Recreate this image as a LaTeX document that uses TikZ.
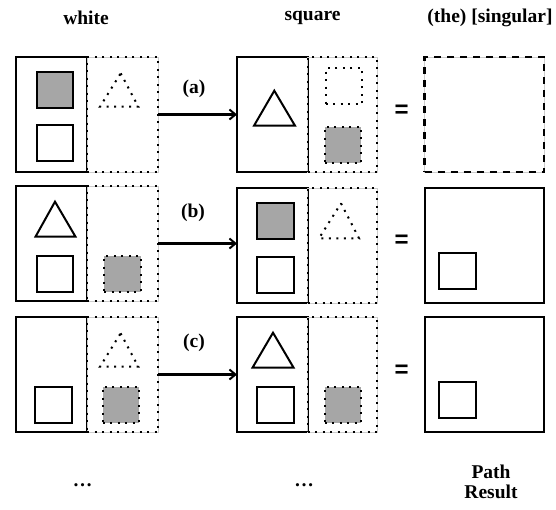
\documentclass[tikz,border=0pt]{standalone}
\usepackage{fontspec}
\setmainfont{Liberation Serif}
\newfontfamily\eqfont{Liberation Sans}
\usetikzlibrary{arrows.meta}
\definecolor{shade}{RGB}{166,166,166}
\definecolor{faint}{RGB}{205,205,205}
\tikzset{
  dotpat/.style={dash pattern=on 2pt off 5.5pt},
  solidbox/.style={draw, line width=2pt, inner sep=0pt, outer sep=0pt, anchor=north west},
  dotbox/.style={draw, line width=2pt, dotpat, inner sep=0pt, outer sep=0pt, anchor=north west,
     preaction={draw=faint, line width=0.6pt, solid}},
  dashbox/.style={draw, line width=2.2pt, dash pattern=on 7pt off 6pt, inner sep=0pt, outer sep=0pt, anchor=north west,
     preaction={draw=faint, line width=0.6pt, solid}},
  sq/.style={draw, line width=2pt, inner sep=0pt, outer sep=0pt, anchor=north west, minimum width=36.6pt, minimum height=36pt},
  graysq/.style={sq, fill=shade},
  dotgraysq/.style={sq, fill=shade, draw, dotpat},
  dotsq/.style={sq, dotpat},
  tri/.style={draw, line width=2pt, line join=miter},
  dottri/.style={draw, line width=2pt, dotpat},
  lbl/.style={font=\fontsize{19.5}{20}\selectfont\bfseries, inner sep=0pt},
  eqsign/.style={font=\eqfont\fontsize{24}{24}\selectfont\bfseries, inner sep=0pt},
  arr/.style={-{Straight Barb[length=6pt,width=10pt,line width=2pt]}, line width=2.2pt},
  tall/.style={minimum width=71pt, minimum height=115pt},
  wide/.style={minimum width=119.5pt, minimum height=115pt}
}
\begin{document}
\begin{tikzpicture}[x=1pt,y=-1pt]
\useasboundingbox (0,0) rectangle (556,509);

% headers
\node[lbl] (h1) at (86,18) {white};
\node[lbl] (h2) at (312.5,18) {square};
\node[lbl] (h3) at (490,18) {(the) [singular]};

% ---------- row 1 ----------
\node[solidbox, tall] (L1) at (16,57) {};
\node[dotbox, tall] (D1) at (87,57) {};
\node[graysq] (a1) at (36.7,71.7) {};
\node[sq] (a2) at (36.7,125) {};
\draw[dottri] (120.7,73.3) -- (138.3,106.7) -- (100,106.7) -- cycle;
\node[solidbox, tall, minimum width=70.5pt] (M1) at (237,57) {};
\node[dotbox, tall, minimum width=69.5pt] (N1) at (307.5,57) {};
\draw[tri] (274.3,90.7) -- (295,125.7) -- (254,125.7) -- cycle;
\node[dotsq] (a3) at (325.7,68.3) {};
\node[dotgraysq] (a4) at (324.5,126.7) {};
\node[eqsign] (e1) at (401.7,111.7) {=};
\node[dashbox, wide] (R1) at (424.5,57) {};
\draw[arr] (D1.east) -- (M1.west);
\node[lbl] (la) at (194,89) {(a)};

% ---------- row 2 ----------
\node[solidbox, tall] (L2) at (16,186) {};
\node[dotbox, tall] (D2) at (87,186) {};
\draw[tri] (55,201.7) -- (75.5,236.7) -- (35.5,236.7) -- cycle;
\node[sq] (b1) at (36.7,255.7) {};
\node[dotgraysq] (b2) at (104,255.7) {};
\node[solidbox, tall, minimum width=70.5pt] (M2) at (237,188) {};
\node[dotbox, tall, minimum width=69.5pt] (N2) at (307.5,188) {};
\node[graysq] (b3) at (257,203.3) {};
\node[sq] (b4) at (257,257.3) {};
\draw[dottri] (341,203.3) -- (359,238.3) -- (319,238.3) -- cycle;
\node[eqsign] (e2) at (401.7,241.7) {=};
\node[solidbox, wide] (R2) at (424.5,188) {};
\node[sq] (b5) at (439,252.7) {};
\coordinate (t2) at (M2.west |- D2.east);
\draw[arr] (D2.east) -- (t2);
\node[lbl] (lb) at (193,213.3) {(b)};

% ---------- row 3 ----------
\node[solidbox, tall] (L3) at (16,317) {};
\node[dotbox, tall] (D3) at (87,317) {};
\node[sq] (c1) at (35.3,386.7) {};
\draw[dottri] (120.6,333.3) -- (138.3,366.7) -- (100,366.7) -- cycle;
\node[dotgraysq] (c2) at (102.5,386.7) {};
\node[solidbox, tall, minimum width=70.5pt] (M3) at (237,317) {};
\node[dotbox, tall, minimum width=69.5pt] (N3) at (307.5,317) {};
\draw[tri] (273,332.7) -- (293.6,367.7) -- (252.5,367.7) -- cycle;
\node[sq] (c3) at (257,386.7) {};
\node[dotgraysq] (c4) at (324.5,386.7) {};
\node[eqsign] (e3) at (401.7,371) {=};
\node[solidbox, wide] (R3) at (424.5,317) {};
\node[sq] (c5) at (439,381.7) {};
\draw[arr] (D3.east) -- (M3.west);
\node[lbl] (lc) at (194,343.3) {(c)};

% footer
\node[lbl, anchor=base] (f1) at (82.5,486) {\char"2026};
\node[lbl, anchor=base] (f2) at (304,486) {\char"2026};
\node[lbl, align=center] (f3) at (491,482) {Path\\Result};
\end{tikzpicture}
\end{document}
